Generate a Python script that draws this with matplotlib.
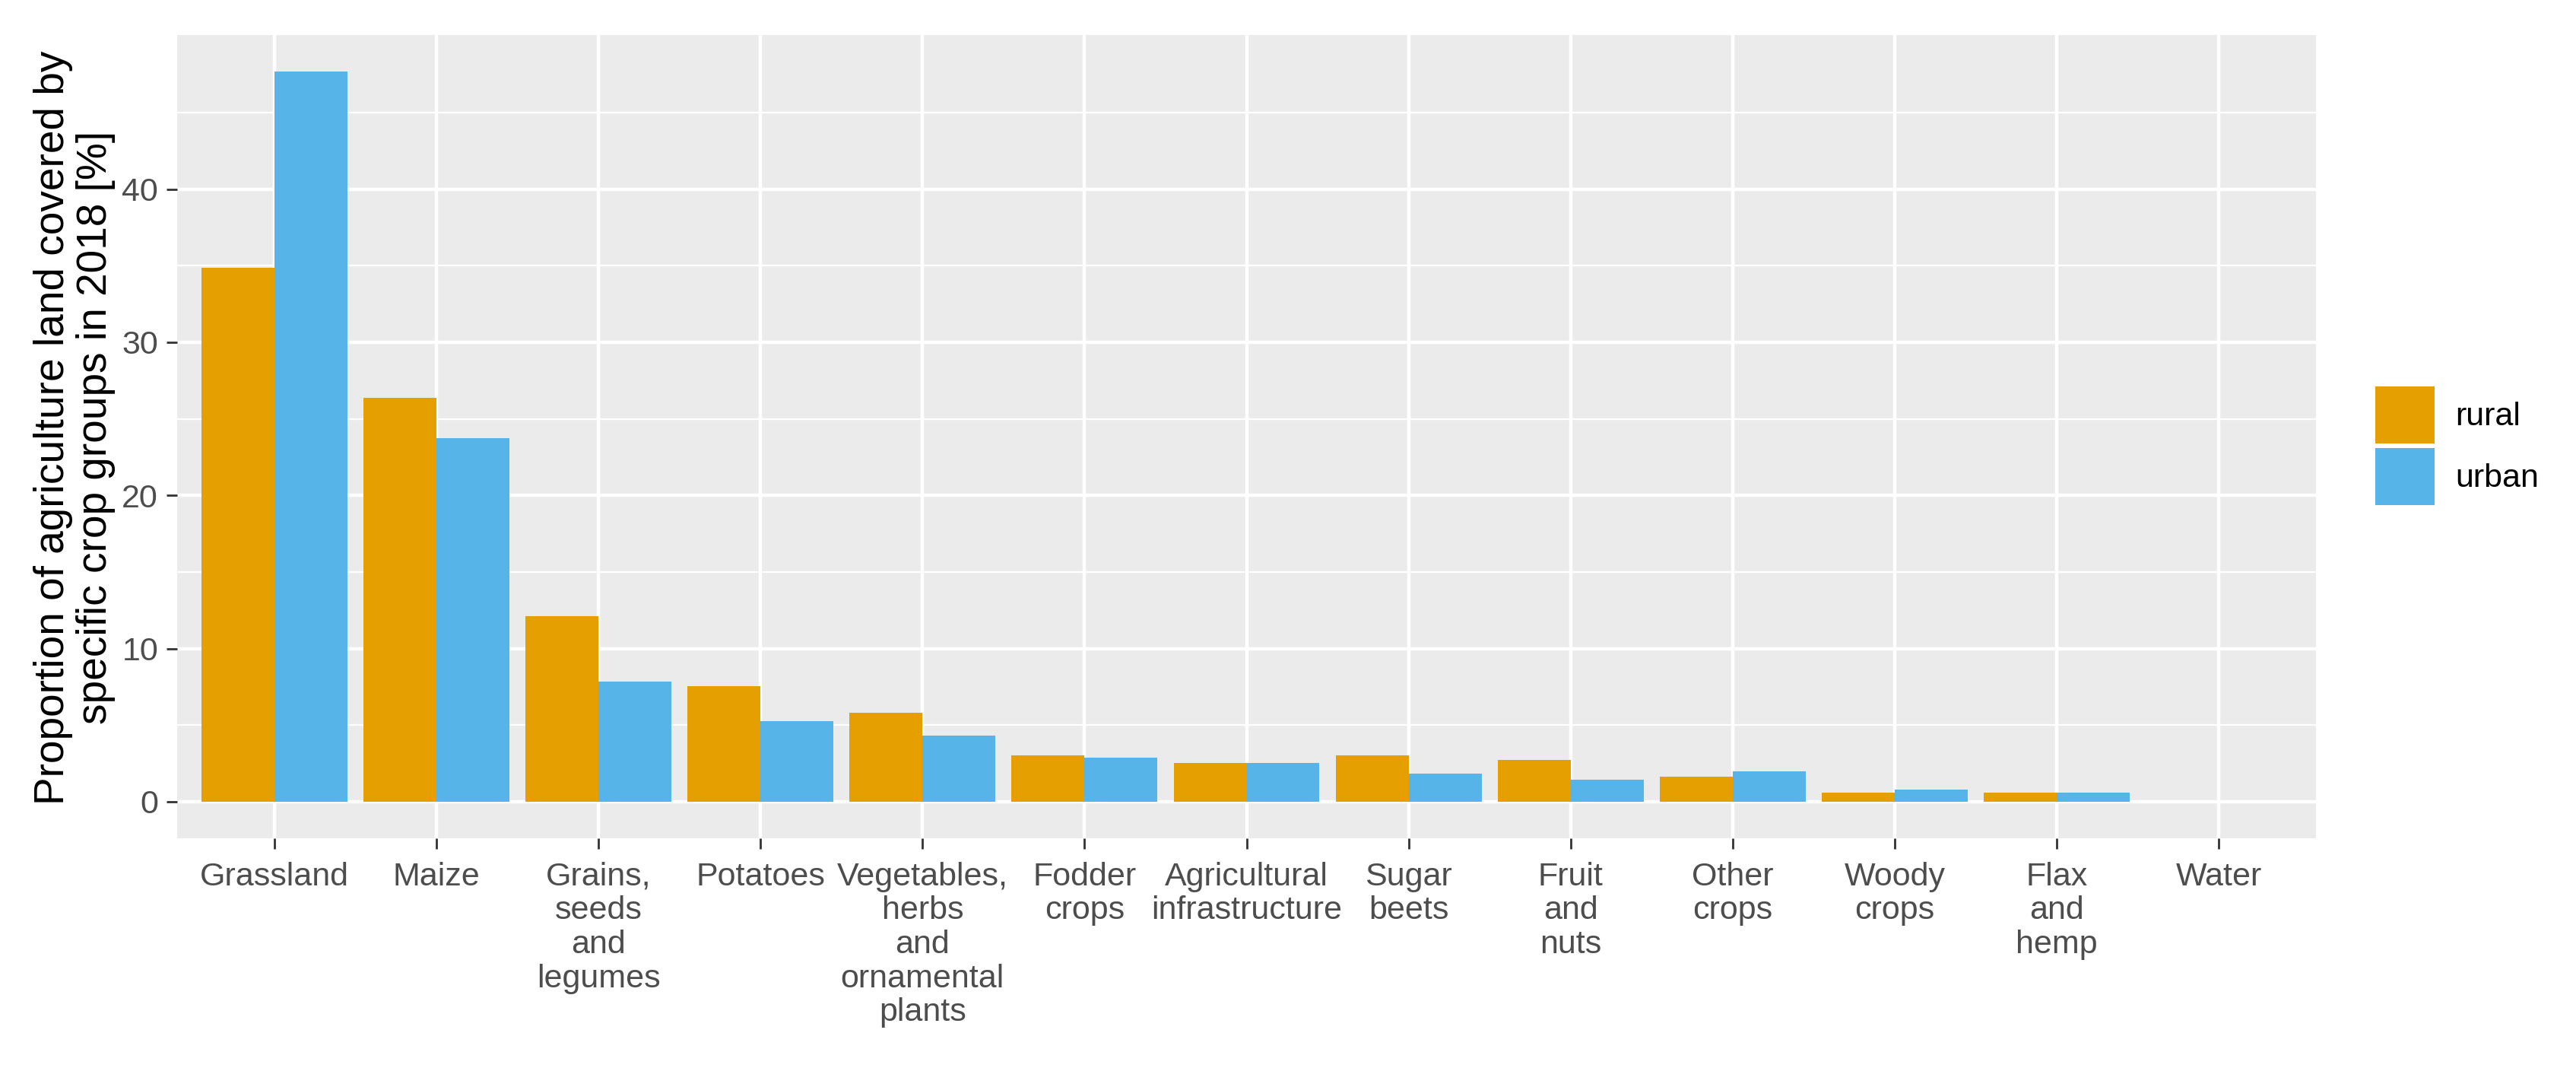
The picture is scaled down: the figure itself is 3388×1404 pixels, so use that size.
import matplotlib
matplotlib.use("Agg")
import matplotlib.pyplot as plt
from matplotlib.patches import Patch
import numpy as np

plt.rcParams["font.family"] = ["Liberation Sans", "DejaVu Sans"]

categories = ["Grassland", "Maize", "Grains,\nseeds\nand\nlegumes", "Potatoes",
              "Vegetables,\nherbs\nand\nornamental\nplants", "Fodder\ncrops",
              "Agricultural\ninfrastructure", "Sugar\nbeets", "Fruit\nand\nnuts",
              "Other\ncrops", "Woody\ncrops", "Flax\nand\nhemp", "Water"]
rural = [34.86, 26.36, 12.1, 7.55, 5.8, 3.05, 2.52, 3.05, 2.71, 1.66, 0.59, 0.59, 0.0]
urban = [47.7, 23.73, 7.87, 5.24, 4.3, 2.88, 2.52, 1.83, 1.46, 2.0, 0.79, 0.58, 0.0]
groups = ["rural", "urban"]
colors = ["#E69F00", "#56B4E9"]

W, H = 3388, 1404
fig = plt.figure(figsize=(W / 200, H / 200), dpi=200)
ax = fig.add_axes([233 / W, 1 - 1102 / H, (3046 - 233) / W, (1102 - 45.6) / H])

x = np.arange(1, len(categories) + 1)
bw = 0.45
ax.bar(x - bw / 2, rural, width=bw, color=colors[0], zorder=3)
ax.bar(x + bw / 2, urban, width=bw, color=colors[1], zorder=3)

ax.set_facecolor("#EBEBEB")
for s in ax.spines.values():
    s.set_visible(False)
ax.set_xlim(0.4, len(categories) + 0.6)
ax.set_ylim(-2.385, 50.08)
ax.set_yticks([0, 10, 20, 30, 40])
ax.set_yticks([5, 15, 25, 35, 45], minor=True)
ax.set_xticks(x)
ax.set_xticklabels(categories, linespacing=1.15)
ax.grid(True, which="major", color="white", linewidth=1.6, zorder=0)
ax.grid(True, which="minor", axis="y", color="white", linewidth=0.8, zorder=0)
ax.tick_params(axis="both", which="major", length=5, width=1.0, color="#333333",
               labelcolor="#4D4D4D", labelsize=15.5)
ax.tick_params(axis="x", pad=6)
ax.tick_params(axis="y", pad=4)
ax.tick_params(which="minor", length=0)
for lbl in ax.get_xticklabels():
    lbl.set_horizontalalignment("center")
    lbl.set_multialignment("center")

fig.text(98 / W, 1 - 562 / H,
         "Proportion of agriculture land covered by\nspecific crop groups in 2018 [%]",
         rotation=90, ha="center", va="center", multialignment="center",
         fontsize=19.8, color="black", linespacing=1.1)

handles = [Patch(facecolor=c, edgecolor="none") for c in colors]
fig.legend(handles, groups, loc="upper left", bbox_to_anchor=(3124 / W, 1 - 508 / H),
           frameon=False, fontsize=15.5, handlelength=1.8, handleheight=2.3,
           labelspacing=0.15, handletextpad=0.65, borderpad=0, borderaxespad=0)

fig.savefig("out.png", dpi=200, facecolor="white")
